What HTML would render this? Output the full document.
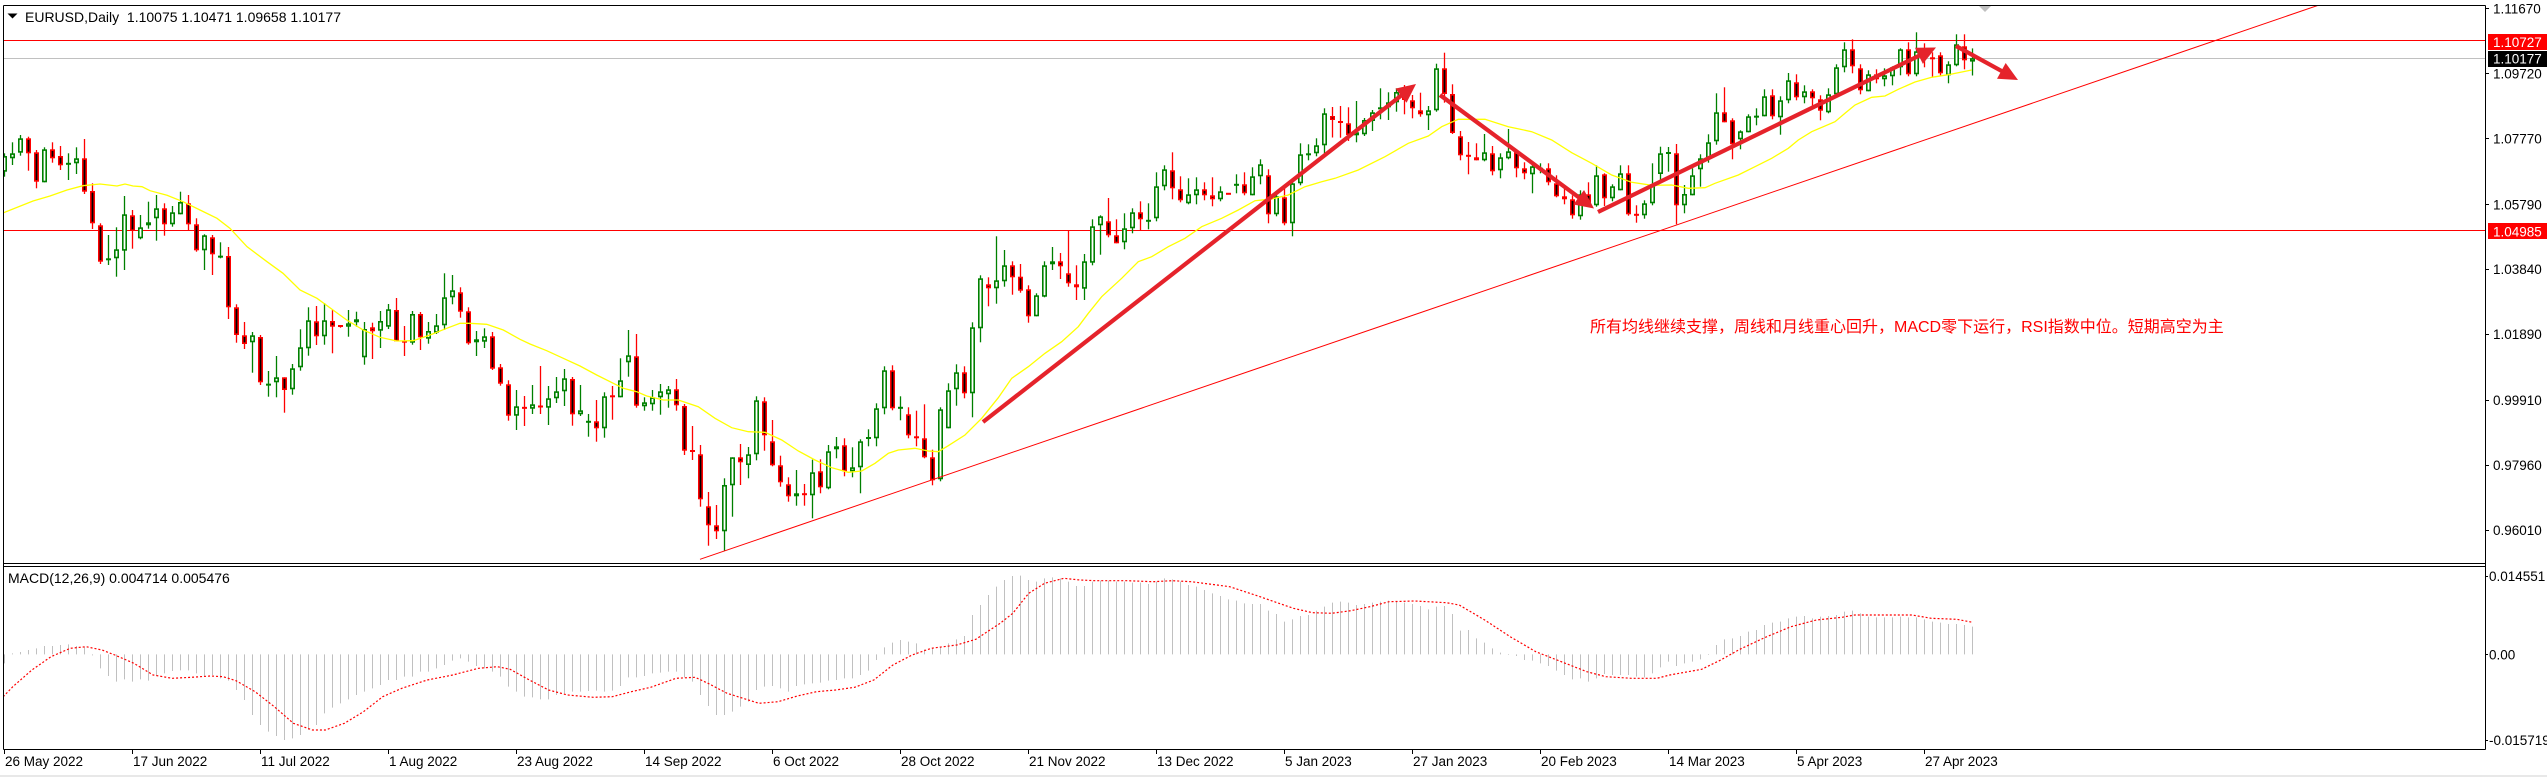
<!DOCTYPE html>
<html><head><meta charset="utf-8">
<style>
html,body{margin:0;padding:0;background:#fff;}
body{width:2547px;height:777px;overflow:hidden;}
svg{display:block;}
text{font-family:"Liberation Sans","Noto Sans CJK SC",sans-serif;}
</style></head><body>
<svg id="c" width="2547" height="777" viewBox="0 0 2547 777" xmlns="http://www.w3.org/2000/svg">
<rect width="2547" height="777" fill="#fff"/>
<defs>
<clipPath id="mc"><rect x="4" y="6" width="2481" height="557"/></clipPath>
<clipPath id="dc"><rect x="4" y="567" width="2481" height="182"/></clipPath>
</defs>
<!-- horizontal lines -->
<line x1="4" y1="40.5" x2="2485" y2="40.5" stroke="#ff0000" stroke-width="1"/>
<line x1="4" y1="58.5" x2="2485" y2="58.5" stroke="#c0c0c0" stroke-width="1"/>
<line x1="4" y1="230.5" x2="2485" y2="230.5" stroke="#ff0000" stroke-width="1"/>
<g id="main" clip-path="url(#mc)"></g>
<g id="macd" clip-path="url(#dc)"></g>
<g id="anno" clip-path="url(#mc)"></g>
<!-- shift marker -->
<polygon points="1979,6 1991,6 1985,12" fill="#c0c0c0"/>
<!-- frames -->
<g stroke="#000" stroke-width="1" fill="none">
<line x1="3.5" y1="5.5" x2="2485.5" y2="5.5"/>
<line x1="3.5" y1="5.5" x2="3.5" y2="749.5"/>
<line x1="2485.5" y1="5.5" x2="2485.5" y2="749.5"/>
<line x1="3.5" y1="563.5" x2="2485.5" y2="563.5"/>
<line x1="3.5" y1="566.5" x2="2485.5" y2="566.5"/>
<line x1="3.5" y1="749.5" x2="2485.5" y2="749.5"/>
</g>
<!-- price axis ticks -->
<g stroke="#000" stroke-width="1">
<line x1="2485" y1="8.5" x2="2489" y2="8.5"/>
<line x1="2485" y1="73.5" x2="2489" y2="73.5"/>
<line x1="2485" y1="138.5" x2="2489" y2="138.5"/>
<line x1="2485" y1="204.5" x2="2489" y2="204.5"/>
<line x1="2485" y1="269.5" x2="2489" y2="269.5"/>
<line x1="2485" y1="334.5" x2="2489" y2="334.5"/>
<line x1="2485" y1="400.5" x2="2489" y2="400.5"/>
<line x1="2485" y1="465.5" x2="2489" y2="465.5"/>
<line x1="2485" y1="530.5" x2="2489" y2="530.5"/>
<line x1="2485" y1="576.5" x2="2488" y2="576.5"/>
<line x1="2485" y1="654.5" x2="2488" y2="654.5"/>
<line x1="2485" y1="740.5" x2="2488" y2="740.5"/>
</g>
<g font-size="13.5" fill="#000">
<text x="2493" y="13.5">1.11670</text>
<text x="2493" y="78.4">1.09720</text>
<text x="2493" y="143.4">1.07770</text>
<text x="2493" y="209.3">1.05790</text>
<text x="2493" y="274.2">1.03840</text>
<text x="2493" y="339.1">0.99910</text>
<text x="2493" y="405.1">0.99910</text>
<text x="2493" y="470">0.97960</text>
<text x="2493" y="535">0.96010</text>
<text x="2489" y="581">0.014551</text>
<text x="2489" y="659.3">0.00</text>
<text x="2489" y="745">-0.015719</text>
</g>
<rect x="2488" y="34" width="59" height="16" fill="#ff0000"/>
<text x="2493" y="47" font-size="13.5" fill="#fff">1.10727</text>
<rect x="2488" y="51" width="59" height="16" fill="#000"/>
<text x="2493" y="63.5" font-size="13.5" fill="#fff">1.10177</text>
<rect x="2488" y="223" width="59" height="16" fill="#ff0000"/>
<text x="2493" y="236.5" font-size="13.5" fill="#fff">1.04985</text>
<!-- title -->
<polygon points="7.5,13.5 17.5,13.5 12.5,18.5" fill="#000"/>
<text x="25" y="22" font-size="14" fill="#000" xml:space="preserve">EURUSD,Daily  1.10075 1.10471 1.09658 1.10177</text>
<text x="8" y="583" font-size="14" fill="#000">MACD(12,26,9) 0.004714 0.005476</text>
<!-- annotation text -->
<text x="1590" y="332" font-size="16" fill="#ff0000" font-family="'Liberation Sans','Noto Sans CJK SC',sans-serif">所有均线继续支撑，周线和月线重心回升，MACD零下运行，RSI指数中位。短期高空为主</text>
<g id="dates" font-size="13.5" fill="#000"></g>
<rect x="0" y="775" width="2547" height="2" fill="#e8e8e8"/>
</svg>
<script>
(function(){
var NS='http://www.w3.org/2000/svg';
function el(tag,a,p){var e=document.createElementNS(NS,tag);for(var k in a)e.setAttribute(k,a[k]);p.appendChild(e);return e;}
// fix a label typo safeguard: set correct 1.01890
var txts=document.querySelectorAll('text');
for(var i=0;i<txts.length;i++){if(txts[i].getAttribute('y')==='339.1')txts[i].textContent='1.01890';}
var C=[
[1,153.3,156,171.7,176.7],[1,142.3,153.3,158.3,165],[1,135,138.3,152.7,155.7],[0,136.7,138.3,153.3,170.7],[0,150,152.3,181.7,188.3],
[1,147.3,149.3,182.3,182.3],[0,142.3,149.3,158.3,162.7],[0,146,156,165.3,170],[1,153.3,163.3,164.3,180],[1,147.3,158.3,163.3,174],
[0,139,158.3,191.7,194],[0,183.3,191,223.3,229],[0,223.3,225.3,261.7,264],[1,235,258.3,260.3,265],[1,227.3,249.3,258.3,276.7],
[1,196,214.3,250.7,270],[0,210,215.3,231,248.7],[1,215,227.3,238.3,239.3],[1,201.7,222.3,225.3,228.7],[1,195,208.3,218.3,240.7],
[0,203.3,208.3,224.3,235.7],[1,206,212.3,224.3,226.7],[1,191.7,202,214.3,214.3],[0,195,203.3,224.3,230],[0,218.3,224.3,250.3,251.7],
[1,234.3,235.3,250.3,270],[0,235,237.3,254.3,275],[1,242.3,256,257.3,258.3],[0,247,256,307.3,319],[0,304.3,307.3,335,342.7],
[0,322,335.3,344,349],[1,332,335.3,342.3,372.7],[0,335,337,382.3,385],[1,371,384,385.3,396.7],[1,356,377.3,382.3,397.3],
[0,377.3,377.3,390,412.7],[1,364,368.3,389.3,394.7],[1,329.3,347.3,367.3,370.7],[1,307.3,320.3,348.3,355.7],[0,306,321.3,336.3,345],
[1,303,320.3,336.3,344.7],[0,310,321,326.7,353.3],[0,325.3,325.3,326.7,327.7],[1,310,323.3,326.7,336.7],[1,311.7,319.3,322.3,326.7],
[1,322,329,357.3,364.7],[0,322.7,327.3,331.3,359],[1,311,321,330.7,348],[1,304,309.3,326.7,329],[0,298,310,341.3,341.3],
[0,326,341,342.3,356],[1,311,314,342.7,344.7],[0,312,314,337.3,350],[1,322,331,338.7,343.7],[1,314,325.3,332.7,334],
[1,273.3,297.3,325.3,330],[1,275,290.3,297.3,304.3],[0,287.3,292.3,311.7,317.7],[0,307.3,311.3,343.3,344.7],[1,331,339.3,342.3,356],
[1,328.3,336.3,341.7,348],[0,332,336.3,368.7,370],[0,364,367.3,383.7,385.7],[0,380.3,384.3,415.7,420.7],[1,390,406.3,415.7,430],
[0,396,407,408.7,426],[1,385,404.3,408.7,414],[0,366,405.3,407.7,414],[1,386,398.3,407.7,425],[1,377,391.3,398.3,403],
[1,369,378.3,391.3,406],[0,377,379,414.3,425.7],[1,385,410.3,414.3,416],[1,414,421.3,422.3,436.7],[0,400,421.3,428.3,441.7],
[1,392.3,396.3,428.3,437.7],[0,386,395.3,397.3,419.7],[1,358.3,380.3,397.3,397.3],[1,330,355.3,362.3,376.7],[0,334,356.3,405.7,407.7],
[1,397.3,402.3,406.3,410.7],[1,390,397.3,404.3,410.7],[1,384,391.3,397.3,414.7],[1,386,389.3,394.3,407.7],[0,379,389.3,405.3,410.7],
[0,404,406,450.7,455],[0,426,450.3,451.7,460],[0,445,454.3,499.3,506.7],[0,492,506.3,525.3,545.7],[0,505,525.3,531.3,539],
[1,478.3,485,531.3,550.7],[1,457.3,457.3,485.3,516.7],[0,444,457.3,462.3,485],[1,447,454.3,465,478.3],[1,396.3,400.3,454.3,460.3],
[0,397.3,401.3,435.3,450.7],[0,420,441.3,465.3,466.3],[0,455.7,465.3,482.3,486.7],[0,477.3,484.3,496.3,501.7],[1,470,493.3,496.3,505.7],
[0,484,493.7,494.7,505.7],[1,459.7,472.3,495.3,518.3],[0,459.3,471.3,487.3,493.3],[1,445,451.3,488.3,489.3],[1,437,446.3,449.3,458.3],
[0,438.3,445.3,471.3,476.3],[1,447.3,467.3,471.3,477.3],[1,439.3,441.3,467.3,493.3],[1,429.3,437.7,438.3,446.3],[1,403.3,408.3,438.3,446.3],
[1,366.3,370.3,408.3,414.3],[0,365.3,370.3,408.3,410.3],[1,396.3,407.3,408.3,420.3],[0,407.3,414.3,435.3,438.3],[0,410.7,436.3,438.3,446.3],
[0,404.3,438.3,457.3,458.3],[0,449.7,457.3,480.3,485.3],[1,407.3,409.3,479.3,481.3],[1,383.3,390.3,428.3,428.3],[1,364.3,372.3,389.3,405.7],
[0,366.3,372.3,393.3,398.3],[1,322.3,327.3,393.3,417.3],[1,275.3,278.3,328.3,342.3],[0,277.3,284.3,288.3,306.3],[1,236.3,280.3,288.3,303.7],
[1,250,265.3,281.3,286.7],[0,261.3,265.3,277.3,294.7],[0,264,276.7,290.7,292.7],[0,285.3,289.3,316.3,322.7],[1,293.3,295.3,316.3,316.3],
[1,261.3,265.3,296.7,297.3],[1,247,261.3,264.3,270],[0,253,261.3,266.3,279],[0,230.3,273.3,283.3,286.7],[0,265.3,284.3,287.3,300],
[1,254,261.3,288.7,300],[1,219.3,226.3,262.7,265.3],[1,215.3,216.3,225.3,254.7],[0,198,221.3,235.3,237.3],[0,219.3,235.3,243.3,243.3],
[1,213.3,228.3,242.3,249.3],[1,208.3,212.3,228.3,233.3],[0,201.3,212.3,219.3,230.3],[1,203.3,220.3,221.3,229.3],[1,172.3,186.3,218.3,221.3],
[1,165.3,169.3,186.3,190.3],[0,152.3,170.3,188.3,199.3],[0,176.3,189.3,200.3,202.3],[1,178.3,194.3,203.3,204.3],[1,177.3,189.3,195.3,204.3],
[0,182.3,189.3,195.3,200.3],[0,177.3,195.3,199.3,206.3],[1,186.3,191.3,199.3,201.3],[0,193.3,193.3,194.3,194.3],[1,174.3,184.3,185.3,193.3],
[0,172.3,184.3,193.3,195.3],[1,167.3,176.3,195.3,195.3],[1,159.3,164.3,176.3,184.3],[0,169.3,175.3,214.3,223.3],[1,193.3,196.3,214.3,216.3],
[0,187.3,197.3,223.3,225.3],[1,182.3,183.3,223.3,236.3],[1,143.3,154.3,183.3,185.3],[1,144.3,153.3,155.3,160.3],[1,138.3,145.3,153.3,156.3],
[1,108.3,113.3,145.3,153.3],[0,107,116,120,137.5],[0,106,121,123,137.7],[0,107.3,123.3,135,141],[1,101,132.3,135.3,142.3],
[1,118,120,134.3,136],[1,110,112.3,121,131],[1,88.3,107.3,109.3,119.3],[1,92.3,102.3,107.3,120],[1,88.3,92,102.3,111.7],
[0,85,94,100,114.3],[0,95,100.3,108.3,118.3],[0,92.7,110.3,114.3,116.7],[1,106,110.3,115.3,130],[1,63.7,68.3,110.3,111.7],
[0,52.7,68.3,94,102.7],[0,84.3,94,133,134],[0,131,136.3,155.3,160.3],[0,142,155.3,156.3,174.3],[0,143.3,157.3,160.3,160.3],
[1,134,152.3,160.3,161.3],[0,146,153.3,171.3,175.3],[1,153.3,157.3,170.3,178.3],[1,129,151.3,158.3,159.3],[0,150.3,152.3,168.3,177.3],
[0,162.3,168.3,173.3,179.3],[1,161.3,166.3,174.3,193.3],[1,163.3,168.3,169.3,173.3],[0,163.3,168.3,182.3,185.3],[0,175.3,183.3,196.3,197.3],
[0,188.3,196.3,199.3,204.3],[0,195.3,199.3,215.3,218.7],[1,190.3,194.3,216.3,219.7],[0,182.3,194.3,203.3,206.7],[1,165.3,175.3,205.3,206.7],
[0,173.3,174.3,198.3,206],[1,184.3,186.3,198.3,201.3],[1,165.3,173.3,190.3,190.3],[0,165.3,173.3,214.3,215.7],[0,205.3,214.3,215.3,222.7],
[1,200.3,203.3,215.3,218.7],[1,163.3,184.3,203.3,205.3],[1,146.7,153.3,174,180.3],[1,147,152.7,153.3,171.7],[0,144,153.3,205.3,224.3],
[1,185,194,205.3,213.3],[1,168.3,175.3,195.3,195.3],[1,154.3,158.3,169.3,186.7],[1,134.3,142.3,158.3,162.7],[1,93.3,112.3,141.3,144.7],
[0,87.3,112.3,122.3,122.3],[0,118.3,120.3,144.3,159.3],[1,130.3,131.3,139.3,149.3],[1,114.3,116.3,132.3,132.3],[1,108.3,116.3,117,125.3],
[1,89.3,96.3,116.3,116.3],[0,89.3,95.3,116.3,119.3],[1,96.3,100.3,117.3,134.7],[1,73,80.3,100.3,103.3],[0,74.3,82.3,97.3,100.3],
[1,85.3,91.3,97.3,103.3],[0,89.3,91.3,98.3,106.3],[0,95.3,99.3,110.7,120.3],[1,88.3,94.3,112.3,113.3],[1,64.3,67.3,94.3,94.3],
[1,42.3,49.3,67.3,72.3],[0,39.3,49.3,66.3,73.3],[0,64.3,68.3,90.3,94.3],[1,70.3,74.3,91.3,91.3],[0,69.3,74.3,79.3,83.3],
[1,68.3,75.3,79.3,86.3],[1,66.3,67.3,76.3,85.3],[1,48.3,49.3,67.3,75.3],[0,42.3,49.3,74.3,76.3],[1,32.3,51.3,74.3,76.3],
[0,43.3,53.3,58.3,67.3],[0,52.3,57.3,59.3,77.3],[0,52.3,55.3,73.3,76.3],[1,61.3,64.3,75.3,83.3],[1,34.3,44.3,65.3,66.3],
[0,34.3,46.3,60.3,69.3],[1,48.4,58.2,61.6,75.5]
];
var g=document.getElementById('main');
var GREEN='#008000',RED='#ff0000';
for(var i=0;i<C.length;i++){
 var d=C[i],cx=4+8*i,col=d[0]?GREEN:RED,H=d[1],T=d[2],B=d[3],L=d[4];
 el('line',{x1:cx+0.5,y1:H,x2:cx+0.5,y2:L,stroke:col,'stroke-width':1.3},g);
 var h=B-T;
 if(h<2.6){
  el('rect',{x:cx-2,y:(T+B)/2-1,width:5,height:2,fill:col},g);
 }else{
  el('rect',{x:cx-1.2,y:T+0.8,width:3.4,height:h-1.6,fill:d[0]?'#fff':'#000',stroke:col,'stroke-width':1.6},g);
 }
}
// MA
var MA=[[3,213],[33,201],[50,196],[67,190],[83,185.7],[100,184],[117,186],[125,184],[133,186],[142,186.7],[150,190.7],[167,195.3],[183,201.7],[200,210],[217,218.3],[230,228.3],[247,246.7],[267,261.7],[283,273.3],[300,290],[317,298.3],[333,310],[346.7,320],[363.3,330],[380,337.3],[396.7,341],[413.3,340.7],[430,335],[446.7,328.3],[460,323.3],[470,323.3],[486.7,324.3],[503.3,330],[520,339.3],[530,344],[546.7,350.7],[563.3,358.3],[580,366],[596.7,375],[613.3,383.3],[623.3,388.3],[636.7,391.7],[646.7,396],[663.3,400],[678.3,400],[698.3,406.7],[715,418.3],[731.7,427.7],[748.3,431.7],[765,432.3],[781.7,440],[798.3,451],[815,460],[831.7,467.7],[848.3,472.3],[861.7,471],[875,463.3],[888.3,453.3],[898.3,450],[915,448.3],[928.3,451],[938.3,451.7],[948.3,445.7],[965,435],[981.7,418.3],[998.3,397.7],[1011.7,378.3],[1028.3,366.7],[1045,353.3],[1061.7,341.7],[1078.3,326.7],[1088.3,313.3],[1101.7,296.7],[1121.7,278.3],[1138.3,261.7],[1151.7,256.7],[1168.3,246.7],[1185,238.3],[1201.7,226.7],[1221.7,218.3],[1238.3,210],[1255,200.7],[1271.7,199],[1288.3,195],[1305,186.7],[1321.7,181.7],[1335,178.3],[1358.3,170],[1385,156.7],[1408.3,143.3],[1428.3,136],[1441.7,126.7],[1458.3,119.3],[1485,119.3],[1508.3,126.7],[1531.7,131.7],[1551.7,140],[1571.7,152.7],[1591.7,163.3],[1611.7,175],[1631.7,182.3],[1651.7,185.3],[1671.7,185],[1688.3,188.3],[1705,187.7],[1715,183.3],[1738.3,175],[1755,166.7],[1771.7,158.3],[1788.3,148.3],[1798.3,140],[1811.7,131.7],[1835,121.7],[1845,113.3],[1855,105],[1871.7,97.3],[1885,96],[1898.3,89.3],[1915,82],[1931.7,77.3],[1948.3,74.7],[1971.7,70]];
el('polyline',{points:MA.map(function(p){return p.join(',');}).join(' '),fill:'none',stroke:'#ffff00','stroke-width':1.3},g);
// annotations
var a=document.getElementById('anno');
el('line',{x1:700,y1:559.3,x2:2322,y2:4,stroke:'#ff0000','stroke-width':1},a);
function arrow(x1,y1,x2,y2){
 var dx=x2-x1,dy=y2-y1,l=Math.sqrt(dx*dx+dy*dy),ux=dx/l,uy=dy/l,Lh=19,W=9;
 var bx=x2-ux*Lh,by=y2-uy*Lh,px=-uy,py=ux;
 el('line',{x1:x1,y1:y1,x2:bx+ux*3,y2:by+uy*3,stroke:'#e5232b','stroke-width':4.2},a);
 el('polygon',{points:x2+','+y2+' '+(bx+px*W)+','+(by+py*W)+' '+(bx-px*W)+','+(by-py*W),fill:'#e5232b'},a);
}
arrow(983,422,1416,84);
arrow(1440,95,1594,208.5);
arrow(1598,212,1936,47.5);
arrow(1956,46,2018,80);
// MACD
var m=document.getElementById('macd');
var H1=[310,280,276,270,265,258,258,255,253,258,262,286,325,348,365,358,365,358,362,348,340,333,331,331,340,348,345,355,362,390,420,465,495,515,528,540,535,525,510,495,460,443,430,418,405,395,385,375,360,360,350,350,335,335,325,315,302,295,305,318,325,335,350,380,395,410,412,418,418,405,400,395,395,393,392,395,392,378,352,352,348,340,338,335,335,352,365,405,438,465,465,455,440,425,390,380,378,385,395,378,373,370,368,362,360,355,355,345,332,300,262,248,240,245,250,268,265,262,250,238,228,165,135,105,80,
60,48,47,60,65,55,52,55,65,78,78,65,62,62,65,65,68,68,72,65,55,58,65,75,80,90,100,108,118,122,130,132,132,152,162,185,178,168,165,152,140,128,125,128,135,132,128,125,122,125,128,132,138,148,140,138,162,212,210,235,248,265,278,285,288,300,302,310,318,332,345,358,355,365,355,342,345,345,345,350,352,340,322,305,318,310,305,298,285,255,238,235,228,215,210,195,188,185,175,170,168,175,170,168,165,155,152,160,170,172,172,172,170,172,172,178,185,188,192,192,195,200];
var z=560+283/3,pd='';
for(var i=0;i<H1.length;i++){var x=4+8*i+0.5,y=560+H1[i]/3;pd+='M'+x+' '+z+'V'+y;}
el('path',{d:pd,stroke:'#c0c0c0','stroke-width':1,fill:'none'},m);
var S5=[[5,410],[20,380],[50,330],[80,290],[110,265],[135,260],[160,270],[180,285],[210,310],[240,345],[270,355],[300,352],[330,348],[350,350],[370,362],[400,395],[430,440],[460,490],[490,510],[510,510],[540,490],[570,455],[600,410],[630,385],[670,360],[710,345],[750,325],[780,320],[800,328],[830,360],[860,390],[890,405],[930,412],[960,410],[990,395],[1020,382],[1060,355],[1090,352],[1110,370],[1140,400],[1170,418],[1190,430],[1220,425],[1250,408],[1280,395],[1310,390],[1340,382],[1370,360],[1400,315],[1430,285],[1460,265],[1500,255],[1530,238],[1568,190]];
var S6=[[20,160],[45,100],[70,70],[100,55],[125,60],[150,62],[200,62],[240,65],[270,62],[300,65],[340,75],[360,80],[400,105],[430,125],[460,145],[490,158],[520,160],[550,152],[580,140],[610,125],[650,123],[700,128],[720,135],[760,180],[800,230],[840,275],[880,305],[920,335],[950,350],[990,355],[1030,355],[1050,345],[1100,328],[1130,300],[1160,268],[1200,232],[1240,200],[1280,180],[1320,172],[1340,165],[1430,165],[1460,175],[1500,178],[1525,187]];
var pts=[];
S5.forEach(function(p){pts.push((p[0]*0.6378).toFixed(1)+','+(560+p[1]/3).toFixed(1));});
S6.forEach(function(p){pts.push((1000+p[0]*0.6378).toFixed(1)+','+(560+p[1]/3).toFixed(1));});
el('polyline',{points:pts.join(' '),fill:'none',stroke:'#ff0000','stroke-width':1.2,'stroke-dasharray':'2 2'},m);
// dates
var dg=document.getElementById('dates');
var DL=['26 May 2022','17 Jun 2022','11 Jul 2022','1 Aug 2022','23 Aug 2022','14 Sep 2022','6 Oct 2022','28 Oct 2022','21 Nov 2022','13 Dec 2022','5 Jan 2023','27 Jan 2023','20 Feb 2023','14 Mar 2023','5 Apr 2023','27 Apr 2023'];
var svg=document.getElementById('c');
for(var k=0;k<DL.length;k++){
 var tx=4+128*k;
 var t=el('text',{x:tx+1,y:766},dg);t.textContent=DL[k];
 el('line',{x1:tx+0.5,y1:750,x2:tx+0.5,y2:754,stroke:'#000','stroke-width':1},svg);
}
})();
</script>
</body></html>
